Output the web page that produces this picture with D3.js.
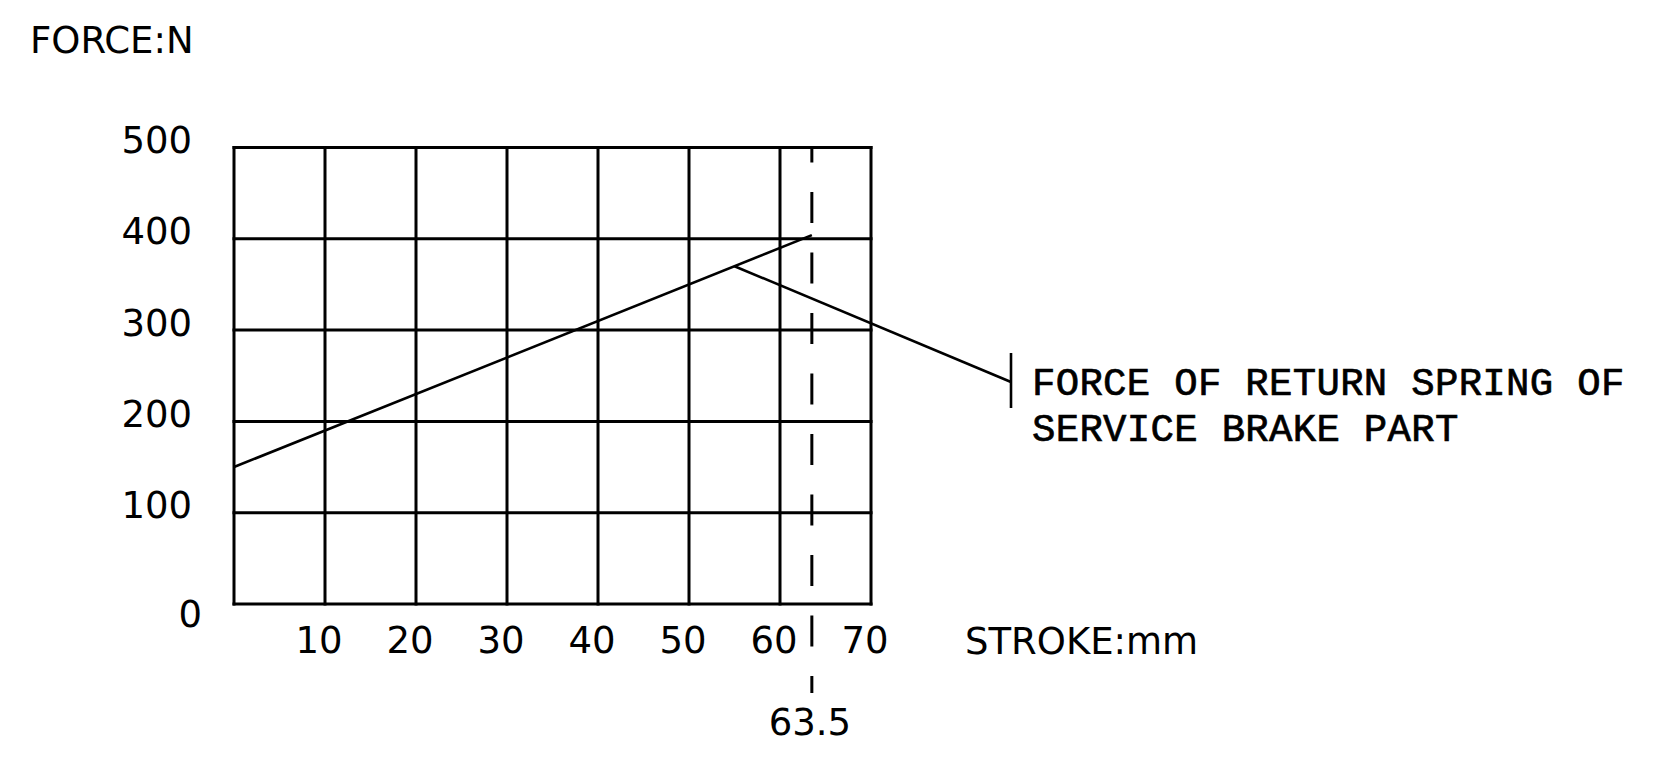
<!doctype html>
<html>
<head>
    <style>
        body { margin: 0; background: #fff; }
        text { fill: #000; }
        .lbl { font-family: "DejaVu Sans", sans-serif; font-size: 37px; }
        .note { font-family: "Liberation Mono", monospace; font-size: 39px; letter-spacing: 0.3px; stroke: #000; stroke-width: 0.7; }
        .grid line { stroke: #000; stroke-width: 3; }
    </style>
    <script src="https://d3js.org/d3.v7.min.js"></script>
</head>
<body>
<svg width="1654" height="764"></svg>
<script>

    // values
    var xTicks = [10, 20, 30, 40, 50, 60, 70];
    var yTicks = [0, 100, 200, 300, 400, 500];
    var strokeMm = [0, 63.5];
    var forceN = [150, 404];
    var markStroke = 63.5;
    var leaderStroke = 55;
    var noteLines = ["FORCE OF RETURN SPRING OF", "SERVICE BRAKE PART"];

    var svg = d3.select("svg");

    var x = d3.scaleLinear().domain([0, 70]).range([234, 871]);
    var y = d3.scaleLinear().domain([0, 500]).range([604, 147.5]);

    var grid = svg.append("g").attr("class", "grid");

    // horizontal grid lines
    grid.selectAll(".h")
        .data(yTicks)
        .enter().append("line")
        .attr("x1", x(0)).attr("x2", x(70))
        .attr("y1", function(d) { return y(d); })
        .attr("y2", function(d) { return y(d); })
        .attr("stroke-linecap", "square");

    // vertical grid lines (plus the left edge)
    grid.selectAll(".v")
        .data([0].concat(xTicks))
        .enter().append("line")
        .attr("x1", function(d) { return x(d); })
        .attr("x2", function(d) { return x(d); })
        .attr("y1", y(0)).attr("y2", y(500))
        .attr("stroke-linecap", "square");

    // y labels
    svg.selectAll(".ylab")
        .data(yTicks)
        .enter().append("text")
        .attr("class", "lbl")
        .attr("text-anchor", "end")
        .attr("x", function(d) { return d === 0 ? 202 : 192; })
        .attr("y", function(d) { return d === 0 ? y(d) + 23 : y(d) + 5.5; })
        .text(function(d) { return d; });

    // x labels
    svg.selectAll(".xlab")
        .data(xTicks)
        .enter().append("text")
        .attr("class", "lbl")
        .attr("text-anchor", "middle")
        .attr("x", function(d) { return x(d) - 6; })
        .attr("y", 653)
        .text(function(d) { return d; });

    svg.append("text")
        .attr("class", "lbl")
        .attr("x", 30).attr("y", 53)
        .text("FORCE:N");

    svg.append("text")
        .attr("class", "lbl")
        .attr("x", 965).attr("y", 654)
        .text("STROKE:mm");

    // dashed marker at 63.5
    svg.append("line")
        .attr("x1", x(markStroke)).attr("x2", x(markStroke))
        .attr("y1", y(500)).attr("y2", 693)
        .attr("stroke", "#000")
        .attr("stroke-width", 3)
        .attr("stroke-dasharray", "31 29.5")
        .attr("stroke-dashoffset", 16);

    svg.append("text")
        .attr("class", "lbl")
        .attr("text-anchor", "middle")
        .attr("x", x(markStroke) - 2).attr("y", 735)
        .text(markStroke);

    // spring force line
    var pts = strokeMm.map(function(d, i) { return [d, forceN[i]]; });
    var line = d3.line()
        .x(function(d) { return x(d[0]); })
        .y(function(d) { return y(d[1]); });

    svg.append("path")
        .datum(pts)
        .attr("d", line)
        .attr("fill", "none")
        .attr("stroke", "#000")
        .attr("stroke-width", 2.6);

    // leader to the note
    var f = d3.scaleLinear().domain(strokeMm).range(forceN);
    svg.append("line")
        .attr("x1", x(leaderStroke)).attr("y1", y(f(leaderStroke)))
        .attr("x2", 1011).attr("y2", 382)
        .attr("stroke", "#000")
        .attr("stroke-width", 2.6);

    svg.append("line")
        .attr("x1", 1011).attr("x2", 1011)
        .attr("y1", 353).attr("y2", 408)
        .attr("stroke", "#000")
        .attr("stroke-width", 2.6);

    svg.selectAll(".note")
        .data(noteLines)
        .enter().append("text")
        .attr("class", "note")
        .attr("x", 1032)
        .attr("y", function(d, i) { return 395 + i * 46; })
        .text(function(d) { return d; });

</script>
</body>
</html>
